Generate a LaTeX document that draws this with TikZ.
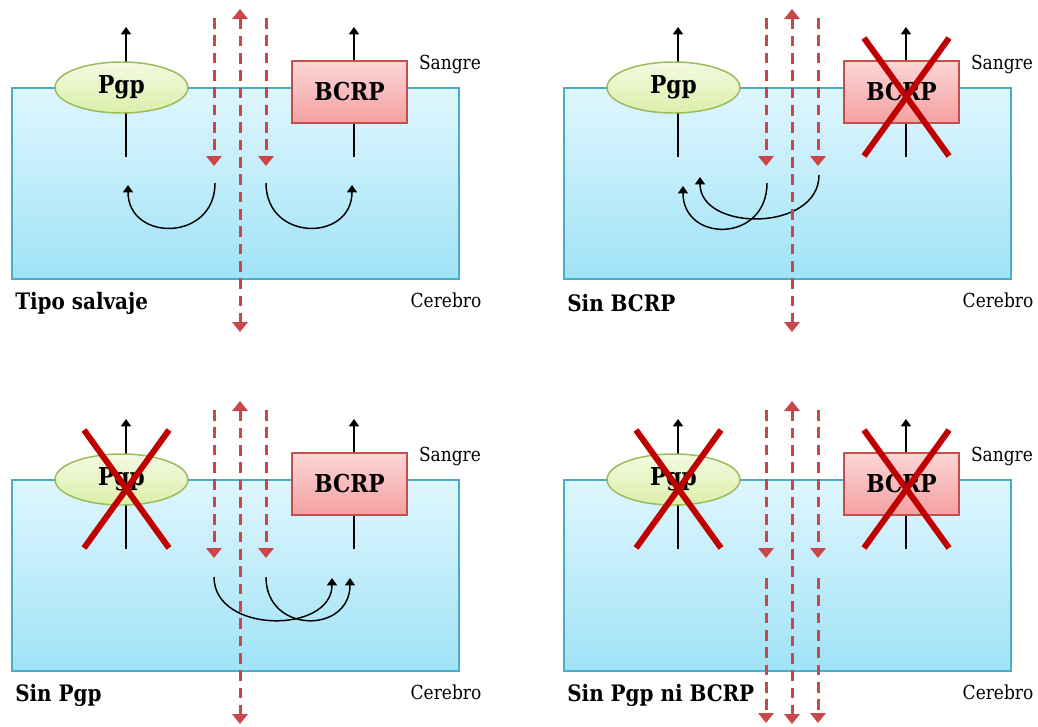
\documentclass[tikz,border=0pt]{standalone}
\usepackage{fontspec}
\setmainfont{DejaVu Serif}[FakeStretch=0.88]
\usetikzlibrary{arrows.meta,shapes.geometric}

\definecolor{celltop}{HTML}{DFF6FD}
\definecolor{cellbottom}{HTML}{A0E3F7}
\definecolor{celledge}{HTML}{4BACC6}
\definecolor{pgptop}{HTML}{F4FAE2}
\definecolor{pgpbottom}{HTML}{DCEFAA}
\definecolor{pgpedge}{HTML}{9BBB59}
\definecolor{bcrptop}{HTML}{FBD6D6}
\definecolor{bcrpbottom}{HTML}{F3A0A0}
\definecolor{bcrpedge}{HTML}{C0504D}
\definecolor{diffred}{HTML}{C9474B}
\definecolor{xred}{HTML}{C00000}

\tikzset{
  cellbox/.style={draw=celledge, line width=1.1pt, top color=celltop,
    bottom color=cellbottom, minimum width=335.25pt, minimum height=143.25pt,
    inner sep=0pt},
  pgpbox/.style={ellipse, draw=pgpedge, line width=1.1pt, top color=pgptop,
    bottom color=pgpbottom, minimum width=99.75pt, minimum height=38.25pt,
    inner sep=0pt, font=\fontsize{18.5}{18.5}\selectfont\bfseries},
  bcrpbox/.style={rectangle, draw=bcrpedge, line width=1.1pt, top color=bcrptop,
    bottom color=bcrpbottom, minimum width=86.25pt, minimum height=46.5pt,
    inner sep=0pt, font=\fontsize{18.5}{18.5}\selectfont\bfseries},
  efflux/.style={line width=1.1pt, -{Triangle[width=7.5pt,length=5.5pt]}},
  diffuse/.style={draw=diffred, line width=2.25pt, dash pattern=on 8pt off 5pt,
    -{Triangle[width=11.5pt,length=7.5pt]}},
  diffuseboth/.style={diffuse, {Triangle[width=11.5pt,length=7.5pt]}-{Triangle[width=11.5pt,length=7.5pt]}},
  knockout/.style={draw=xred, line width=4.5pt},
  side/.style={inner sep=0pt, font=\fontsize{14.5}{14.5}\selectfont},
  paneltitle/.style={anchor=west, inner sep=0pt, font=\fontsize{17}{17}\selectfont\bfseries},
}

% membrane, transporters and compartment labels of one panel
\newcommand\barrier[1]{%
  \node[cellbox] (cell) at (235.5,183.5) {};
  \coordinate (pgpin) at (126,157);
  \coordinate (pgpout) at (126,27);
  \coordinate (bcrpin) at (354,157);
  \coordinate (bcrpout) at (354,27);
  \draw[efflux] (pgpin) -- (pgpout);
  \draw[efflux] (bcrpin) -- (bcrpout);
  \node[pgpbox] (pgp) at (121.5,87.5) {Pgp};
  \node[bcrpbox] (bcrp) at (349.5,92) {BCRP};
  \node[side] (blood) at (450,64) {Sangre};
  \node[side] (brain) at (446,300) {Cerebro};
  \node[paneltitle] (name) at (15,303) {#1};
}

% passive diffusion across the barrier
\newcommand\diffusion{%
  \coordinate (l1) at (214,18);
  \coordinate (l2) at (214,166);
  \coordinate (m1) at (240,9);
  \coordinate (m2) at (240,332);
  \coordinate (r1) at (266,18);
  \coordinate (r2) at (266,166);
  \draw[diffuse] (l1) -- (l2);
  \draw[diffuseboth] (m1) -- (m2);
  \draw[diffuse] (r1) -- (r2);
}

% cross over a missing transporter
\newcommand\crossout[2]{%
  \coordinate (#1a) at (#2-42,38);
  \coordinate (#1b) at (#2+43,156);
  \coordinate (#1c) at (#2+43,38);
  \coordinate (#1d) at (#2-42,156);
  \draw[knockout] (#1a) -- (#1b);
  \draw[knockout] (#1c) -- (#1d);
}

\begin{document}
\begin{tikzpicture}[x=0.75pt, y=-0.75pt]
\useasboundingbox (0,0) rectangle (1038,726);

% wild type
\begin{scope}[name prefix=wt-]
  \barrier{Tipo salvaje}
  \coordinate (in1) at (215,183);
  \coordinate (out1) at (128,185);
  \coordinate (in2) at (266,183);
  \coordinate (out2) at (352,185);
  \draw[efflux] (in1) .. controls +(0,59) and +(0,57) .. (out1);
  \draw[efflux] (in2) .. controls +(0,59) and +(0,57) .. (out2);
  \diffusion
\end{scope}

% BCRP knockout
\begin{scope}[shift={(552,0)}, name prefix=nb-]
  \barrier{Sin BCRP}
  \coordinate (in1) at (215,183);
  \coordinate (out1) at (131,186);
  \coordinate (in2) at (267,175);
  \coordinate (out2) at (148,177);
  \draw[efflux] (in1) .. controls +(0,60) and +(0,57) .. (out1);
  \draw[efflux] (in2) .. controls +(0,57) and +(0,55) .. (out2);
  \diffusion
  \crossout{kb}{354}
\end{scope}

% Pgp knockout
\begin{scope}[shift={(0,392)}, name prefix=np-]
  \barrier{Sin Pgp}
  \coordinate (in1) at (214,185);
  \coordinate (out1) at (332,186);
  \coordinate (in2) at (266,185);
  \coordinate (out2) at (350,186);
  \draw[efflux] (in1) .. controls +(0,57) and +(0,56) .. (out1);
  \draw[efflux] (in2) .. controls +(0,57) and +(0,56) .. (out2);
  \diffusion
  \crossout{kp}{126}
\end{scope}

% double knockout
\begin{scope}[shift={(552,392)}, name prefix=dk-]
  \barrier{Sin Pgp ni BCRP}
  \diffusion
  \coordinate (l3) at (214,186);
  \coordinate (l4) at (214,331);
  \coordinate (r3) at (266,186);
  \coordinate (r4) at (266,331);
  \draw[diffuse] (l3) -- (l4);
  \draw[diffuse] (r3) -- (r4);
  \crossout{kp}{126}
  \crossout{kb}{354}
\end{scope}
\end{tikzpicture}
\end{document}
